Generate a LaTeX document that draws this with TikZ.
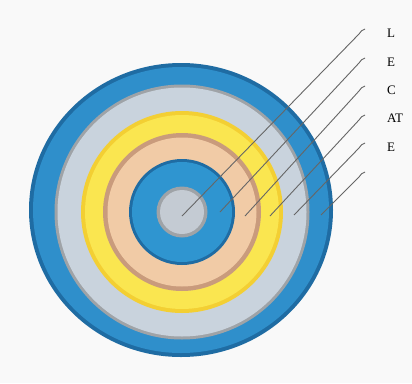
\documentclass[tikz,border=0pt]{standalone}
\usepackage{fontspec}
\setmainfont{Liberation Serif}
\definecolor{paper}{HTML}{F9F9F9}
\definecolor{edgeblue}{HTML}{1F6CA3}
\definecolor{bandblue}{HTML}{2F8FCB}
\definecolor{linegray}{HTML}{9FA3A7}
\definecolor{palegray}{HTML}{C9D3DD}
\definecolor{deepyellow}{HTML}{F3CF33}
\definecolor{softyellow}{HTML}{FAE650}
\definecolor{tanline}{HTML}{C99B7C}
\definecolor{peach}{HTML}{F1CBA6}
\definecolor{coreblue}{HTML}{2F95D0}
\definecolor{coregray}{HTML}{C4CBD3}
\definecolor{leadgray}{HTML}{666666}
\tikzset{
  leader/.style={draw=leadgray, line width=0.9pt},
  tag/.style={anchor=west, inner sep=0pt, font=\fontsize{13}{15}\selectfont},
}
\begin{document}
\begin{tikzpicture}[x=1pt, y=-1pt]
      \useasboundingbox[fill=paper] (0,0) rectangle (412,383);
      \coordinate (o) at (182,212);
      \coordinate (w) at (181,210);

      % rings, outside in
      \fill[edgeblue] (w) ellipse (152pt and 147pt);
      \fill[bandblue] (w) ellipse (148pt and 143pt);
      \fill[linegray] (o) circle (127.5pt);
      \fill[palegray] (o) circle (124.5pt);
      \fill[deepyellow] (o) circle (101pt);
      \fill[softyellow] (o) circle (97pt);
      \fill[tanline] (o) circle (79pt);
      \fill[peach] (o) circle (74.5pt);
      \fill[edgeblue] (o) circle (53pt);
      \fill[coreblue] (o) circle (50pt);
      \fill[linegray] (o) circle (25.5pt);
      \fill[coregray] (o) circle (22pt);

      \coordinate (s1) at (182,216);
      \coordinate (s2) at (220,212);
      \coordinate (s3) at (245,216);
      \coordinate (s4) at (270,216);
      \coordinate (s5) at (294,215);
      \coordinate (s6) at (321,215);

      \coordinate (h1) at (365,29);
      \coordinate (h2) at (365,58);
      \coordinate (h3) at (365,86);
      \coordinate (h4) at (365,115);
      \coordinate (h5) at (365,143);
      \coordinate (h6) at (365,172);

      \node[tag] (l1) at (387,33) {L};
      \node[tag] (l2) at (387,62) {E};
      \node[tag] (l3) at (387,90) {C};
      \node[tag] (l4) at (387,118) {AT};
      \node[tag] (l5) at (387,147) {E};

      \draw[leader] (s1) -- ([shift={(-6,5)}]h1) to[out=45, in=180] (h1);
      \draw[leader] (s2) -- ([shift={(-6,5)}]h2) to[out=45, in=180] (h2);
      \draw[leader] (s3) -- ([shift={(-6,5)}]h3) to[out=45, in=180] (h3);
      \draw[leader] (s4) -- ([shift={(-6,5)}]h4) to[out=45, in=180] (h4);
      \draw[leader] (s5) -- ([shift={(-6,5)}]h5) to[out=45, in=180] (h5);
      \draw[leader] (s6) -- ([shift={(-6,5)}]h6) to[out=45, in=180] (h6);
\end{tikzpicture}
\end{document}
